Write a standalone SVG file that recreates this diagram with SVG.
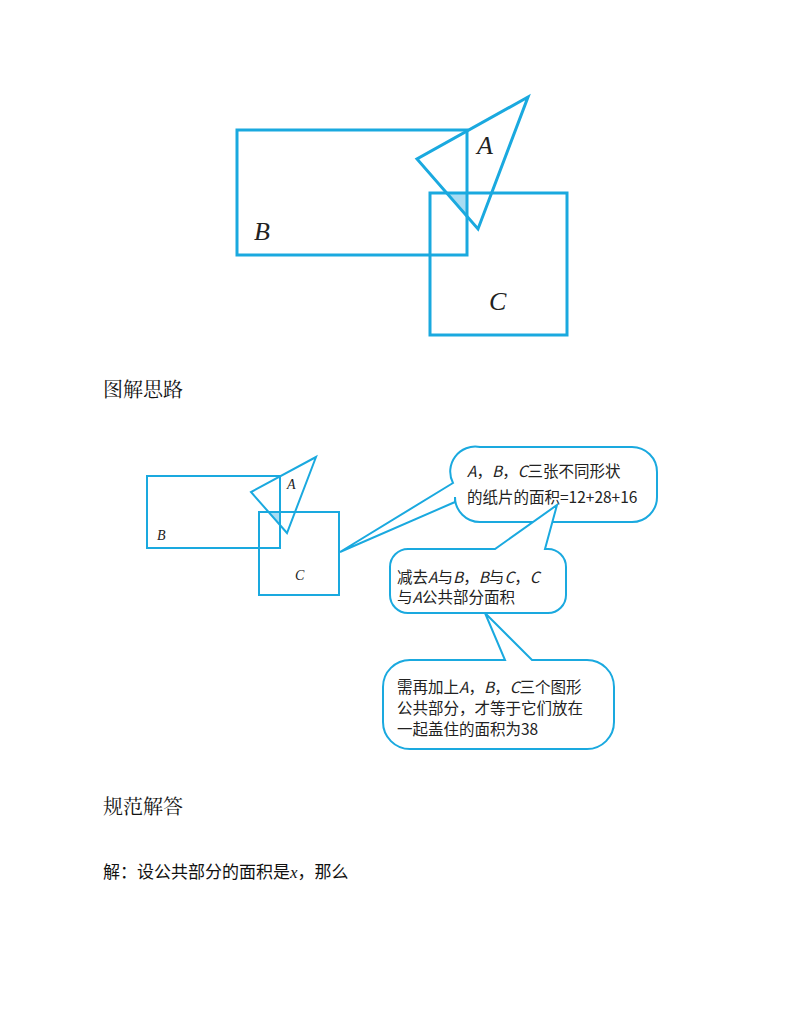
<svg xmlns="http://www.w3.org/2000/svg" width="800" height="1035" viewBox="0 0 800 1035">
<style>
.s{fill:none;stroke:#1aa9df;stroke-linejoin:miter}
.w{fill:#fff;stroke:#1aa9df;stroke-width:2}
.sh{fill:#a9dcf2;stroke:none}
.lab{font-family:"Liberation Serif",serif;font-style:italic;fill:#222}
.ct{font-family:"Noto Sans CJK SC",sans-serif;font-size:15.5px;fill:#222}
.h{font-family:"Noto Serif CJK SC","Noto Sans CJK SC",serif;font-size:20px;fill:#111}
.b{font-family:"Liberation Serif","Noto Sans CJK SC",serif;font-size:17px;fill:#111}
</style>
<rect width="800" height="1035" fill="#fff"/>
<g id="fig-top">
<polygon class="sh" points="446.6,193 467,193 467,216.4"/>
<rect class="s" stroke-width="3" x="237" y="130" width="230" height="125"/>
<rect class="s" stroke-width="3" x="430" y="193" width="137" height="142"/>
<polygon class="s" stroke-width="3" points="528,97 417,159 478,229"/>
<text class="lab" x="477" y="154" font-size="26">A</text>
<text class="lab" x="254" y="240" font-size="26">B</text>
<text class="lab" x="489" y="310" font-size="26">C</text>
</g>
<text class="h" x="103" y="397">图解思路</text>
<g id="fig-small">
<polygon class="sh" points="268.6,512 280,512 280,525"/>
<rect class="s" stroke-width="2" x="147" y="476" width="133" height="72"/>
<rect class="s" stroke-width="2" x="259" y="512" width="80" height="83"/>
<polygon class="s" stroke-width="2" points="316,457 251,492 287,533"/>
<text class="lab" x="287" y="489" font-size="14">A</text>
<text class="lab" x="157" y="540" font-size="14">B</text>
<text class="lab" x="295" y="580" font-size="14">C</text>
</g>
<g id="callout1">
<path class="w" d="M480,447 H632 A25,25 0 0 1 657,472 V497 A25,25 0 0 1 632,522 H480 A25,25 0 0 1 455,497 V502 L340,552 L453,483 A25,25 0 0 1 480,447 Z"/>
<text class="ct" x="467" y="477"><tspan font-style="italic">A</tspan>，<tspan font-style="italic">B</tspan>，<tspan font-style="italic">C</tspan>三张不同形状</text>
<text class="ct" x="467" y="503">的纸片的面积=12+28+16</text>
</g>
<g id="callout2">
<path class="w" d="M410,549 H495 L557,505 L545,549 H548 A18,18 0 0 1 566,567 V595 A18,18 0 0 1 548,613 H408 A18,18 0 0 1 390,595 V567 A18,18 0 0 1 408,549 Z"/>
<text class="ct" x="397" y="583">减去<tspan font-style="italic">A</tspan>与<tspan font-style="italic">B</tspan>，<tspan font-style="italic">B</tspan>与<tspan font-style="italic">C</tspan>，<tspan font-style="italic">C</tspan></text>
<text class="ct" x="397" y="603">与<tspan font-style="italic">A</tspan>公共部分面积</text>
</g>
<g id="callout3">
<path class="w" d="M410,660 H505 L485,613 L532,660 H587 A27,27 0 0 1 614,687 V722 A27,27 0 0 1 587,749 H410 A27,27 0 0 1 383,722 V687 A27,27 0 0 1 410,660 Z"/>
<text class="ct" x="397" y="693">需再加上<tspan font-style="italic">A</tspan>，<tspan font-style="italic">B</tspan>，<tspan font-style="italic">C</tspan>三个图形</text>
<text class="ct" x="397" y="714">公共部分，才等于它们放在</text>
<text class="ct" x="397" y="735">一起盖住的面积为38</text>
</g>
<text class="h" x="103" y="814">规范解答</text>
<text class="b" x="103" y="878">解：设公共部分的面积是<tspan font-style="italic">x</tspan>，那么</text>
</svg>
